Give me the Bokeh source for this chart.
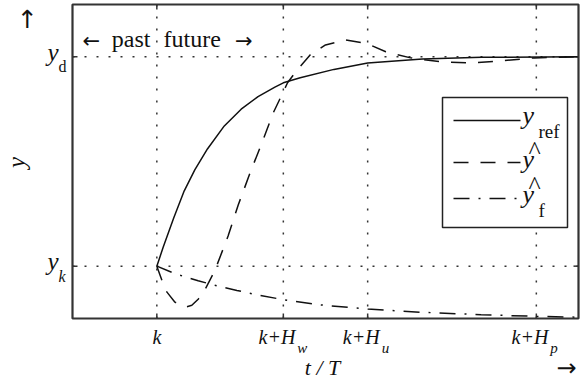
import numpy as np
from bokeh.plotting import figure
from bokeh.models import BoxAnnotation, Label, Range1d, GlobalInlineStyleSheet
from bokeh.embed import file_html
from bokeh.resources import INLINE

# ---------------- data ----------------
t_ref = [0, 0.15, 0.4, 0.65, 0.9, 1.2, 1.6, 2.0, 2.4, 2.8, 3.0, 3.4, 4.2, 5.0, 6.3, 7.7, 10]
y_ref = [0, 0.09, 0.23, 0.36, 0.46, 0.56, 0.67, 0.75, 0.81, 0.855, 0.876, 0.90, 0.94, 0.971, 0.99, 0.998, 1.0]

t_hat = [0, 0.12, 0.24, 0.43, 0.67, 0.83, 0.98, 1.1, 1.38, 1.69, 1.93, 2.21, 2.5, 2.76, 2.93,
         3.1, 3.33, 3.64, 4.0, 4.48, 5.0, 5.43, 6.02, 6.74, 7.45, 8.17, 8.95, 10]
y_hat = [0, -0.067, -0.124, -0.172, -0.196, -0.187, -0.158, -0.129, -0.019, 0.144, 0.292, 0.445,
         0.593, 0.732, 0.804, 0.876, 0.938, 1.01, 1.057, 1.081, 1.062, 1.024, 0.995, 0.976, 0.971,
         0.981, 0.995, 1.0]

t_f = [0, 0.36, 0.62, 0.98, 1.45, 1.9, 2.38, 3.0, 3.88, 5.0, 6.26, 7.69, 9.02, 10]
y_f = [0, -0.03, -0.048, -0.07, -0.095, -0.116, -0.137, -0.16, -0.185, -0.205, -0.22, -0.232, -0.24, -0.244]

x_ticks = [0, 3, 5, 9]
x_tick_main = ["k", "k+H", "k+H", "k+H"]
x_tick_sub = ["", "w", "u", "p"]

y_ticks = [0, 1]
y_tick_main = ["y", "y"]
y_tick_sub = ["k", "d"]
y_tick_sub_style = ["italic", "normal"]

legend_subs = ["ref", "", "f"]
legend_hats = [False, True, True]

# ---------------- geometry ----------------
W, H = 586, 382
FL, FR, FT, FB = 72, 578, 4, 318      # inner axes box, page pixels
X0, X1 = -2, 10                        # data limits of the inner box
Y0, Y1 = -0.25, 1.25
UX = (X1 - X0) / (FR - FL)
UY = (Y1 - Y0) / (FB - FT)


def px2x(px):
    return X0 + (px - FL) * UX


def py2y(py):
    return Y1 - (py - FT) * UY


INK = "#111111"
FRAME = "#333333"
FONT = "Liberation Serif"
AFONT = "DejaVu Sans"
BASE_FIX = 0.38   # em; compensates where the renderer puts the alphabetic baseline

p = figure(width=W, height=H, output_backend="svg", toolbar_location=None, title=None,
           x_range=Range1d(px2x(0), px2x(W)), y_range=Range1d(py2y(H), py2y(0)),
           x_axis_location=None, y_axis_location=None, min_border=0)
p.grid.visible = False
p.outline_line_color = None
p.background_fill_color = "white"
p.border_fill_color = "white"
p.stylesheets = [GlobalInlineStyleSheet(css="body{margin:0;}")]

# dotted grid lines inside the axes box
p.segment(x0=x_ticks, y0=[Y0] * len(x_ticks), x1=x_ticks, y1=[Y1] * len(x_ticks),
          line_color=FRAME, line_width=1.5, line_dash="2 10")
p.segment(x0=[X0] * len(y_ticks), y0=y_ticks, x1=[X1] * len(y_ticks), y1=y_ticks,
          line_color=FRAME, line_width=1.5, line_dash="2 10")

# ticks (inward, all four sides)
tlx = 5 * UX
tly = 5 * UY
p.segment(x0=x_ticks, y0=[Y0] * len(x_ticks), x1=x_ticks, y1=[Y0 + tly] * len(x_ticks),
          line_color=FRAME, line_width=1.5)
p.segment(x0=x_ticks, y0=[Y1] * len(x_ticks), x1=x_ticks, y1=[Y1 - tly] * len(x_ticks),
          line_color=FRAME, line_width=1.5)
p.segment(x0=[X0] * len(y_ticks), y0=y_ticks, x1=[X0 + tlx] * len(y_ticks), y1=y_ticks,
          line_color=FRAME, line_width=1.5)
p.segment(x0=[X1] * len(y_ticks), y0=y_ticks, x1=[X1 - tlx] * len(y_ticks), y1=y_ticks,
          line_color=FRAME, line_width=1.5)

# curves
styles = [dict(), dict(line_dash="15 12"), dict(line_dash="16 9 2 9")]
p.line(t_ref, y_ref, line_color=INK, line_width=1.5, **styles[0])
p.line(t_hat, y_hat, line_color=INK, line_width=1.5, **styles[1])
p.line(t_f, y_f, line_color=INK, line_width=1.5, **styles[2])

# legend box (drawn above the grid, below the sample lines)
p.quad(left=[px2x(442)], right=[px2x(567)], top=[py2y(97)], bottom=[py2y(227)],
       fill_color="white", fill_alpha=1.0, line_color="#222222", line_width=1.5)

# axes box
p.add_layout(BoxAnnotation(left=X0, right=X1, top=Y1, bottom=Y0, fill_alpha=0.0,
                           line_color=FRAME, line_alpha=1.0, line_width=2.2))


def lab(text, px, py, size, style="italic", align="left", rotated=False, font=FONT):
    """px, py: page pixel of the text anchor (alphabetic baseline)."""
    fix = BASE_FIX * size
    if rotated:
        x, y, angle = px2x(px - fix), py2y(py), np.pi / 2
    else:
        x, y, angle = px2x(px), py2y(py - fix), 0.0
    p.add_layout(Label(x=x, y=y, text=text, text_font=font, text_font_style=style,
                       text_font_size=f"{size}px", text_align=align,
                       text_baseline="alphabetic", text_color=INK, angle=angle))


def xpix(xv):
    return FL + (xv - X0) / UX


def ypix(yv):
    return FT + (Y1 - yv) / UY


# legend entries
leg_line_py = [120, 162, 198]
leg_y_base = [125, 169, 204]
for i, sty in enumerate(styles):
    yy = py2y(leg_line_py[i])
    p.line([px2x(453), px2x(520)], [yy, yy], line_color=INK, line_width=1.5, **sty)
    lab("y", 522, leg_y_base[i], 26)
    if legend_hats[i]:
        lab("^", 534, leg_y_base[i] - 9, 26, style="normal", align="center")
    if legend_subs[i]:
        lab(legend_subs[i], 538, leg_y_base[i] + 13, 19, style="normal")

# x tick labels
for xt, m, s in zip(x_ticks, x_tick_main, x_tick_sub):
    if s:
        lab(m, xpix(xt) + 12, 344, 20, align="right")
        lab(s, xpix(xt) + 14, 353, 15)
    else:
        lab(m, xpix(xt), 344, 20, align="center")

# y tick labels
for yt, m, s, st in zip(y_ticks, y_tick_main, y_tick_sub, y_tick_sub_style):
    base = ypix(yt)
    lab(m, 58, base + 5, 25, align="right")
    lab(s, 58, base + 16, 16, style=st)

# axis labels and arrows
lab("y", 25, 162, 25, align="center", rotated=True)
lab("t / T", 322, 375, 22, align="center")
lab("\u2192", 566, 377, 24, style="normal", align="center", font=AFONT)
lab("\u2191", 27, 28, 25, style="normal", align="center", font=AFONT)

# past / future
lab("\u2190", 82, 48, 21, style="normal", align="left", font=AFONT)
lab("past", 150, 48, 24, style="normal", align="right")
lab("future", 163, 48, 24, style="normal", align="left")
lab("\u2192", 252, 48, 21, style="normal", align="right", font=AFONT)

open("out.html", "w").write(file_html(p, INLINE))
